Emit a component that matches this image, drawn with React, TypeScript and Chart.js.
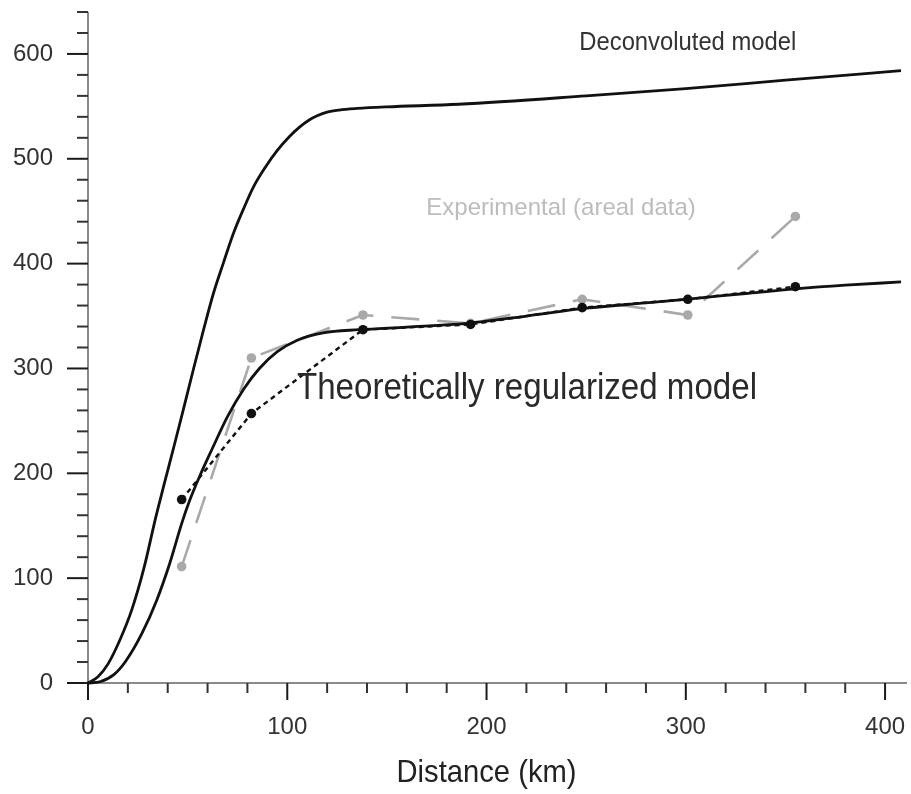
import React, { useEffect, useRef } from 'react';
import { Chart, registerables } from 'chart.js';

Chart.register(...registerables);

// Deconvoluted model curve (distance km, value)
const deconvolutedDistance = [0, 5, 10, 16, 22, 28, 34, 38, 44, 48, 53, 58, 63, 68, 73, 78, 83, 89, 95, 101, 106, 111, 115, 120, 126, 135, 150, 186, 250, 300, 350, 408];
const deconvolutedValue = [0, 6, 18, 41, 70, 109, 158, 188, 232, 262, 300, 337, 372, 401, 429, 452, 473, 492, 508, 521, 530, 537, 541, 544.5, 546.5, 548, 549.5, 552, 560, 567, 575, 584];

// Theoretically regularized model curve
const regularizedDistance = [0, 6, 13, 19, 27, 34.5, 41, 47, 51, 56, 62, 70, 78, 86, 95, 105, 118, 136, 160, 190, 220, 250, 280, 300, 330, 355, 380, 408];
const regularizedValue = [0, 1.2, 8, 21, 47, 79, 114, 152, 174, 197, 222, 254, 280, 300, 316, 327, 334, 337, 339.5, 343, 350, 357.5, 362.5, 366, 371.5, 376, 379.5, 382.5];

// Sampled points
const sampleDistance = [47, 82, 138, 192, 248, 301, 355];
const experimentalValue = [111, 310, 351, 343, 366, 351, 445];
const theoreticalValue = [175, 257, 337, 342, 358, 366, 378];

const xAxisTitle = 'Distance (km)';

const FONT = '"Liberation Sans", Arial, Helvetica, sans-serif';

const notes = [
  { text: 'Deconvoluted model', x: 301, y: 610, size: 25, sx: 0.952, color: '#333333' },
  { text: 'Experimental (areal data)', x: 237.4, y: 452.6, size: 24, sx: 1, color: '#bcbcbc' },
  { text: 'Theoretically regularized model', x: 220.3, y: 281, size: 37, sx: 0.895, color: '#2a2a2a' },
];

const zip = (xs: number[], ys: number[]) => xs.map((x, i) => ({ x, y: ys[i] }));

const axesPlugin = {
  id: 'axesAndNotes',
  beforeDatasetsDraw(chart: any) {
    const { ctx } = chart;
    const xs = chart.scales.x;
    const ys = chart.scales.y;
    const x0 = xs.getPixelForValue(0);
    const y0 = ys.getPixelForValue(0);
    ctx.save();
    ctx.lineCap = 'butt';
    ctx.strokeStyle = '#8a8a8a';
    ctx.lineWidth = 2;
    ctx.beginPath();
    ctx.moveTo(x0, chart.chartArea.top);
    ctx.lineTo(x0, y0);
    ctx.moveTo(x0, y0);
    ctx.lineTo(chart.chartArea.right + 2, y0);
    ctx.stroke();
    xs.ticks.forEach((t: any) => {
      const major = t.value % 100 === 0;
      const px = xs.getPixelForValue(t.value);
      ctx.strokeStyle = major ? '#1a1a1a' : '#333333';
      ctx.beginPath();
      ctx.moveTo(px, y0);
      ctx.lineTo(px, y0 + (major ? 17 : 10));
      ctx.stroke();
    });
    ys.ticks.forEach((t: any) => {
      const major = t.value % 100 === 0;
      const py = ys.getPixelForValue(t.value);
      ctx.strokeStyle = major ? '#1a1a1a' : '#333333';
      ctx.beginPath();
      ctx.moveTo(x0, py);
      ctx.lineTo(x0 - (major ? 21 : 11), py);
      ctx.stroke();
    });
    // x-axis title, centred under the 200 km tick
    ctx.save();
    ctx.translate(xs.getPixelForValue(200), chart.chartArea.bottom + 99);
    ctx.scale(0.912, 1);
    ctx.font = `32px ${FONT}`;
    ctx.fillStyle = '#222222';
    ctx.textAlign = 'center';
    ctx.textBaseline = 'alphabetic';
    ctx.fillText(xAxisTitle, 0, 0);
    ctx.restore();
    ctx.restore();
  },
  afterDatasetsDraw(chart: any) {
    const { ctx } = chart;
    const xs = chart.scales.x;
    const ys = chart.scales.y;
    notes.forEach((n) => {
      ctx.save();
      ctx.translate(xs.getPixelForValue(n.x), ys.getPixelForValue(n.y));
      ctx.scale(n.sx, 1);
      ctx.font = `${n.size}px ${FONT}`;
      ctx.fillStyle = n.color;
      ctx.textAlign = 'center';
      ctx.textBaseline = 'middle';
      ctx.fillText(n.text, 0, 0);
      ctx.restore();
    });
  },
};

const zeroPad = (s: any) => {
  s.paddingTop = 0;
  s.paddingBottom = 0;
  s.paddingLeft = 0;
  s.paddingRight = 0;
};

export default function App() {
  const canvasRef = useRef<HTMLCanvasElement | null>(null);

  useEffect(() => {
    document.body.style.margin = '0';
    const canvas = canvasRef.current;
    if (!canvas) return;
    const chart = new Chart(canvas, {
      type: 'line',
      data: {
        datasets: [
          {
            label: 'Deconvoluted model',
            data: zip(deconvolutedDistance, deconvolutedValue),
            borderColor: '#111111',
            borderWidth: 2.8,
            pointRadius: 0,
            cubicInterpolationMode: 'monotone',
            clip: false,
          },
          {
            label: 'Theoretically regularized model',
            data: zip(regularizedDistance, regularizedValue),
            borderColor: '#111111',
            borderWidth: 2.8,
            pointRadius: 0,
            cubicInterpolationMode: 'monotone',
            clip: false,
          },
          {
            label: 'Theoretical points',
            data: zip(sampleDistance, theoreticalValue),
            borderColor: '#111111',
            borderWidth: 2.4,
            borderDash: [5, 4],
            pointRadius: 4.8,
            pointBackgroundColor: '#111111',
            pointBorderWidth: 0,
            tension: 0,
            clip: false,
          },
          {
            label: 'Experimental (areal data)',
            data: zip(sampleDistance, experimentalValue),
            borderColor: '#a9a9a9',
            borderWidth: 2.6,
            borderDash: [28, 18],
            pointRadius: 4.8,
            pointBackgroundColor: '#a9a9a9',
            pointBorderWidth: 0,
            tension: 0,
            clip: false,
          },
        ],
      } as any,
      options: {
        animation: false,
        responsive: false,
        maintainAspectRatio: false,
        events: [],
        layout: { padding: { top: 12, right: 6, left: 0, bottom: 0 } },
        plugins: {
          legend: { display: false },
          tooltip: { enabled: false },
        },
        scales: {
          x: {
            type: 'linear',
            min: 0,
            max: 410,
            grid: { display: false, drawTicks: false },
            border: { display: false },
            ticks: {
              stepSize: 20,
              includeBounds: false,
              autoSkip: false,
              maxRotation: 0,
              padding: 30,
              color: '#333333',
              font: { size: 24, family: FONT },
              callback: (v: any) => (Number(v) % 100 === 0 ? String(v) : ''),
            },
            title: { display: false, text: xAxisTitle },
            afterFit: (s: any) => {
              s.height = 111;
              zeroPad(s);
            },
          },
          y: {
            type: 'linear',
            min: 0,
            max: 640,
            grid: { display: false, drawTicks: false },
            border: { display: false },
            ticks: {
              stepSize: 20,
              includeBounds: false,
              autoSkip: false,
              padding: 35,
              color: '#333333',
              font: { size: 24, family: FONT },
              callback: (v: any) => (Number(v) % 100 === 0 ? String(v) : ''),
            },
            afterFit: (s: any) => {
              s.width = 88;
              zeroPad(s);
            },
          },
        },
      } as any,
      plugins: [axesPlugin],
    });
    return () => chart.destroy();
  }, []);

  return (
    <div style={{ width: 911, height: 794, background: '#ffffff' }}>
      <canvas ref={canvasRef} width={911} height={794} style={{ display: 'block' }} />
    </div>
  );
}
